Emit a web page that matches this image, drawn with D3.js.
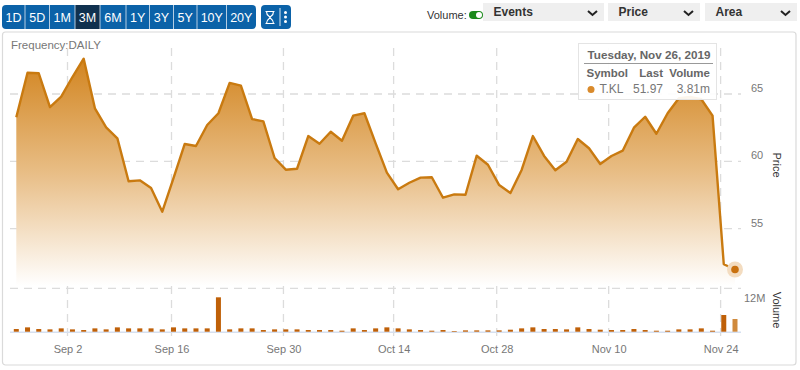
<!DOCTYPE html>
<html>
<head>
<meta charset="utf-8">
<script src="https://cdn.jsdelivr.net/npm/d3@7"></script>
<style>
    html, body { margin: 0; padding: 0; background: #fff; }
    svg { display: block; font-family: "Liberation Sans", Arial, sans-serif; }
</style>
</head>
<body>
<svg id="chart" width="800" height="370"></svg>
<script>
// daily close, one entry per session
const prices = [63.27, 66.58, 66.54, 64.03, 64.80, 66.26, 67.62, 63.94, 62.53, 61.71,
    58.52, 58.59, 58.02, 56.26, 58.76, 61.29, 61.14, 62.70, 63.57, 65.82,
    65.62, 63.14, 62.97, 60.25, 59.38, 59.45, 61.88, 61.31, 62.20, 61.53,
    63.39, 63.57, 61.34, 59.16, 57.93, 58.41, 58.79, 58.82, 57.30, 57.55,
    57.52, 60.42, 59.75, 58.24, 57.65, 59.36, 61.88, 60.40, 59.34, 59.97,
    61.66, 60.97, 59.80, 60.40, 60.79, 62.50, 63.31, 62.05, 63.57, 64.68,
    64.78, 64.61, 63.39, 52.36, 51.97];
// volume in millions
const volumes = [0.8, 1.3, 0.8, 0.7, 1.0, 0.7, 0.5, 1.0, 0.7, 1.3,
    1.0, 1.0, 1.0, 0.7, 1.3, 1.0, 1.0, 1.0, 10.3, 0.7,
    1.0, 1.0, 0.5, 0.7, 0.7, 0.7, 0.5, 0.5, 0.5, 0.3,
    1.0, 0.5, 1.0, 1.3, 1.0, 0.7, 0.5, 0.3, 0.5, 0.2,
    0.4, 0.4, 0.4, 0.4, 0.6, 1.0, 1.3, 0.8, 0.8, 0.7,
    1.3, 0.8, 0.6, 0.5, 0.5, 0.8, 0.5, 0.3, 0.3, 0.7,
    0.7, 1.0, 0.3, 5.0, 3.8];
const dateLabels = ["Sep 2", "Sep 16", "Sep 30", "Oct 14", "Oct 28", "Nov 10", "Nov 24"];
const dateSessions = [4.56, 13.82, 23.79, 33.6, 42.78, 52.75, 62.72];
const priceTicks = [55, 60, 65];
const volumeTicks = [12];
const rangeButtons = ["1D", "5D", "1M", "3M", "6M", "1Y", "3Y", "5Y", "10Y", "20Y"];
const buttonEdges = [2, 25, 49.5, 75, 100, 126, 149.5, 173.5, 197, 226.5, 256];
const dropdowns = ["Events", "Price", "Area"];
const dropdownBoxes = [[483, 604], [608, 700], [705, 797]];

const svg = d3.select("#chart");

const x = d3.scaleLinear().domain([0, 64]).range([16.3, 735]);
const yPrice = d3.scaleLinear().domain([55, 65]).range([228.7, 94]);
const yVolume = d3.scaleLinear().domain([0, 13]).range([331.7, 288.3]);
const gridLeft = 10, gridRight = 741;
const gridColor = "#dcdcdc";

const defs = svg.append("defs");
const grad = defs.append("linearGradient")
    .attr("id", "area-fill")
    .attr("gradientUnits", "userSpaceOnUse")
    .attr("x1", 0).attr("x2", 0)
    .attr("y1", 58).attr("y2", 286);
grad.append("stop").attr("offset", 0).attr("stop-color", "#d2841f");
grad.append("stop").attr("offset", 0.5).attr("stop-color", "#e8bd85");
grad.append("stop").attr("offset", 1).attr("stop-color", "#ffffff");

// top toolbar
const btnG = svg.append("g").attr("id", "range-buttons");
btnG.append("rect")
    .attr("x", 2).attr("y", 5)
    .attr("width", 254).attr("height", 24)
    .attr("rx", 4)
    .attr("fill", "#0b62a8");
rangeButtons.forEach((label, i) => {
    const x0 = buttonEdges[i], x1 = buttonEdges[i + 1];
    if (label === "3M") {
        btnG.append("rect")
            .attr("x", x0).attr("y", 5)
            .attr("width", x1 - x0).attr("height", 24)
            .attr("fill", "#10314f");
    }
    if (i > 0) {
        btnG.append("line")
            .attr("x1", x0).attr("x2", x0)
            .attr("y1", 5).attr("y2", 29)
            .attr("stroke", "#dfe9f3")
            .attr("stroke-width", 0.8);
    }
    btnG.append("text")
        .attr("x", (x0 + x1) / 2).attr("y", 21.5)
        .attr("text-anchor", "middle")
        .attr("font-size", 12.5)
        .attr("fill", "#fff")
        .text(label);
});

// hourglass and menu button
const toolG = svg.append("g").attr("id", "tool-button");
toolG.append("rect")
    .attr("x", 261).attr("y", 5)
    .attr("width", 30).attr("height", 24)
    .attr("rx", 4)
    .attr("fill", "#0b62a8");
toolG.append("path")
    .attr("d", "M265.5 11.5h9M265.5 23.5h9M266.5 11.5c0 5 3.5 4.5 3.5 6s-3.5 1-3.5 6M273.5 11.5c0 5-3.5 4.5-3.5 6s3.5 1 3.5 6")
    .attr("fill", "none")
    .attr("stroke", "#fff")
    .attr("stroke-width", 1.2);
toolG.append("line")
    .attr("x1", 280).attr("x2", 280)
    .attr("y1", 8).attr("y2", 26)
    .attr("stroke", "#dfe9f3");
toolG.selectAll("circle")
    .data([12.5, 17, 21.5])
    .join("circle")
    .attr("cx", 285.5)
    .attr("cy", d => d)
    .attr("r", 1.5)
    .attr("fill", "#fff");

// volume toggle
svg.append("text")
    .attr("x", 427).attr("y", 19)
    .attr("font-size", 11)
    .attr("fill", "#333")
    .text("Volume:");
svg.append("rect")
    .attr("x", 469).attr("y", 11)
    .attr("width", 14).attr("height", 8)
    .attr("rx", 4)
    .attr("fill", "#1c8a1c");
svg.append("circle")
    .attr("cx", 479).attr("cy", 15)
    .attr("r", 3)
    .attr("fill", "#fff");

// dropdowns
dropdowns.forEach((label, i) => {
    const [x0, x1] = dropdownBoxes[i];
    svg.append("rect")
        .attr("x", x0).attr("y", 3)
        .attr("width", x1 - x0).attr("height", 18)
        .attr("fill", "#efefef");
    svg.append("text")
        .attr("x", x0 + 10.5).attr("y", 16)
        .attr("font-size", 12)
        .attr("font-weight", "bold")
        .attr("fill", "#333")
        .text(label);
    svg.append("path")
        .attr("d", `M${x1 - 16} 11l4.5 4l4.5 -4`)
        .attr("fill", "none")
        .attr("stroke", "#222")
        .attr("stroke-width", 2);
});

// chart frame
svg.append("rect")
    .attr("x", 2.5).attr("y", 32)
    .attr("width", 793.5).attr("height", 333)
    .attr("rx", 3)
    .attr("fill", "#fff")
    .attr("stroke", "#dadada")
    .attr("stroke-width", 1.2);

svg.append("text")
    .attr("x", 11).attr("y", 49)
    .attr("font-size", 11.5)
    .attr("fill", "#777")
    .text("Frequency:DAILY");

// grid
const gridG = svg.append("g").attr("id", "grid-g")
    .attr("stroke", gridColor)
    .attr("stroke-width", 1.3)
    .attr("stroke-dasharray", "8,6");
dateSessions.forEach(s => {
    gridG.append("line")
        .attr("x1", x(s)).attr("x2", x(s))
        .attr("y1", 48).attr("y2", 340);
});
priceTicks.forEach(p => {
    gridG.append("line")
        .attr("x1", gridLeft).attr("x2", gridRight)
        .attr("y1", yPrice(p)).attr("y2", yPrice(p));
});
gridG.append("line")
    .attr("x1", gridLeft).attr("x2", gridRight)
    .attr("y1", yVolume(13)).attr("y2", yVolume(13));

// area and line
const area = d3.area()
    .x((d, i) => x(i))
    .y0(286)
    .y1(d => yPrice(d));
const line = d3.line()
    .x((d, i) => x(i))
    .y(d => yPrice(d));

svg.append("path")
    .datum(prices)
    .attr("d", area)
    .attr("fill", "url(#area-fill)");
svg.append("path")
    .datum(prices)
    .attr("d", line)
    .attr("fill", "none")
    .attr("stroke", "#c97a10")
    .attr("stroke-width", 2.4)
    .attr("stroke-linejoin", "round");

// highlighted last point
const lastI = prices.length - 1;
svg.append("circle")
    .attr("cx", x(lastI)).attr("cy", yPrice(prices[lastI]))
    .attr("r", 8)
    .attr("fill", "#f3dcc0");
svg.append("circle")
    .attr("cx", x(lastI)).attr("cy", yPrice(prices[lastI]))
    .attr("r", 3.8)
    .attr("fill", "#c9710f");

// volume baseline and bars
svg.append("line")
    .attr("x1", gridLeft).attr("x2", gridRight)
    .attr("y1", yVolume(0) + 0.5).attr("y2", yVolume(0) + 0.5)
    .attr("stroke", "#d6e0f0")
    .attr("stroke-width", 1.5);
svg.append("g").attr("id", "volume-bars")
    .selectAll("rect")
    .data(volumes)
    .join("rect")
    .attr("x", (d, i) => x(i) - 2.5)
    .attr("y", d => yVolume(d))
    .attr("width", 5)
    .attr("height", d => yVolume(0) - yVolume(d))
    .attr("fill", (d, i) => i === lastI ? "#d08a3c" : "#bf6008");

// axes
const xAxis = d3.axisBottom(x)
    .tickValues(dateSessions)
    .tickFormat((d, i) => dateLabels[i])
    .tickSize(0)
    .tickPadding(0);
const xAxisG = svg.append("g")
    .attr("transform", "translate(0,353)")
    .call(xAxis);
xAxisG.select(".domain").remove();
xAxisG.selectAll("text")
    .attr("dy", 0)
    .attr("font-family", "inherit")
    .attr("font-size", 11)
    .attr("fill", "#777");

const priceAxis = d3.axisRight(yPrice)
    .tickValues(priceTicks)
    .tickSize(0)
    .tickPadding(0);
const priceAxisG = svg.append("g")
    .attr("transform", "translate(751,-6)")
    .call(priceAxis);
priceAxisG.select(".domain").remove();
priceAxisG.selectAll("text")
    .attr("font-family", "inherit")
    .attr("font-size", 11)
    .attr("fill", "#777");

const volumeAxis = d3.axisRight(yVolume)
    .tickValues(volumeTicks)
    .tickFormat(d => d + "M")
    .tickSize(0)
    .tickPadding(0);
const volumeAxisG = svg.append("g")
    .attr("transform", "translate(744,6)")
    .call(volumeAxis);
volumeAxisG.select(".domain").remove();
volumeAxisG.selectAll("text")
    .attr("font-family", "inherit")
    .attr("font-size", 11)
    .attr("fill", "#777");

svg.append("text")
    .attr("transform", "translate(773,165) rotate(90)")
    .attr("text-anchor", "middle")
    .attr("font-size", 11)
    .attr("fill", "#333")
    .text("Price");
svg.append("text")
    .attr("transform", "translate(773,310) rotate(90)")
    .attr("text-anchor", "middle")
    .attr("font-size", 11)
    .attr("fill", "#333")
    .text("Volume");

// tooltip
const tipG = svg.append("g").attr("id", "tooltip");
tipG.append("rect")
    .attr("x", 578.5).attr("y", 43.5)
    .attr("width", 138).attr("height", 56)
    .attr("fill", "#fff")
    .attr("fill-opacity", 0.92)
    .attr("stroke", "#e4e4e4");
tipG.append("text")
    .attr("x", 649).attr("y", 59)
    .attr("text-anchor", "middle")
    .attr("font-size", 11.7)
    .attr("font-weight", "bold")
    .attr("fill", "#666")
    .text("Tuesday, Nov 26, 2019");
tipG.append("line")
    .attr("x1", 584).attr("x2", 713)
    .attr("y1", 63.5).attr("y2", 63.5)
    .attr("stroke", "#999");
const tipCell = (label, xPos, yPos, anchor, bold) => tipG.append("text")
    .attr("x", xPos).attr("y", yPos)
    .attr("text-anchor", anchor)
    .attr("font-size", bold ? 11.5 : 12)
    .attr("font-weight", bold ? "bold" : "normal")
    .attr("fill", bold ? "#666" : "#777")
    .text(label);
tipCell("Symbol", 586.5, 77, "start", true);
tipCell("Last", 663, 77, "end", true);
tipCell("Volume", 710, 77, "end", true);
tipCell("T.KL", 599.5, 93, "start", false);
tipCell(d3.format(".2f")(prices[lastI]), 663, 93, "end", false);
tipCell("3.81m", 710, 93, "end", false);
tipG.append("circle")
    .attr("cx", 591).attr("cy", 89.5)
    .attr("r", 3.5)
    .attr("fill", "#d98a2b");
</script>
</body>
</html>
